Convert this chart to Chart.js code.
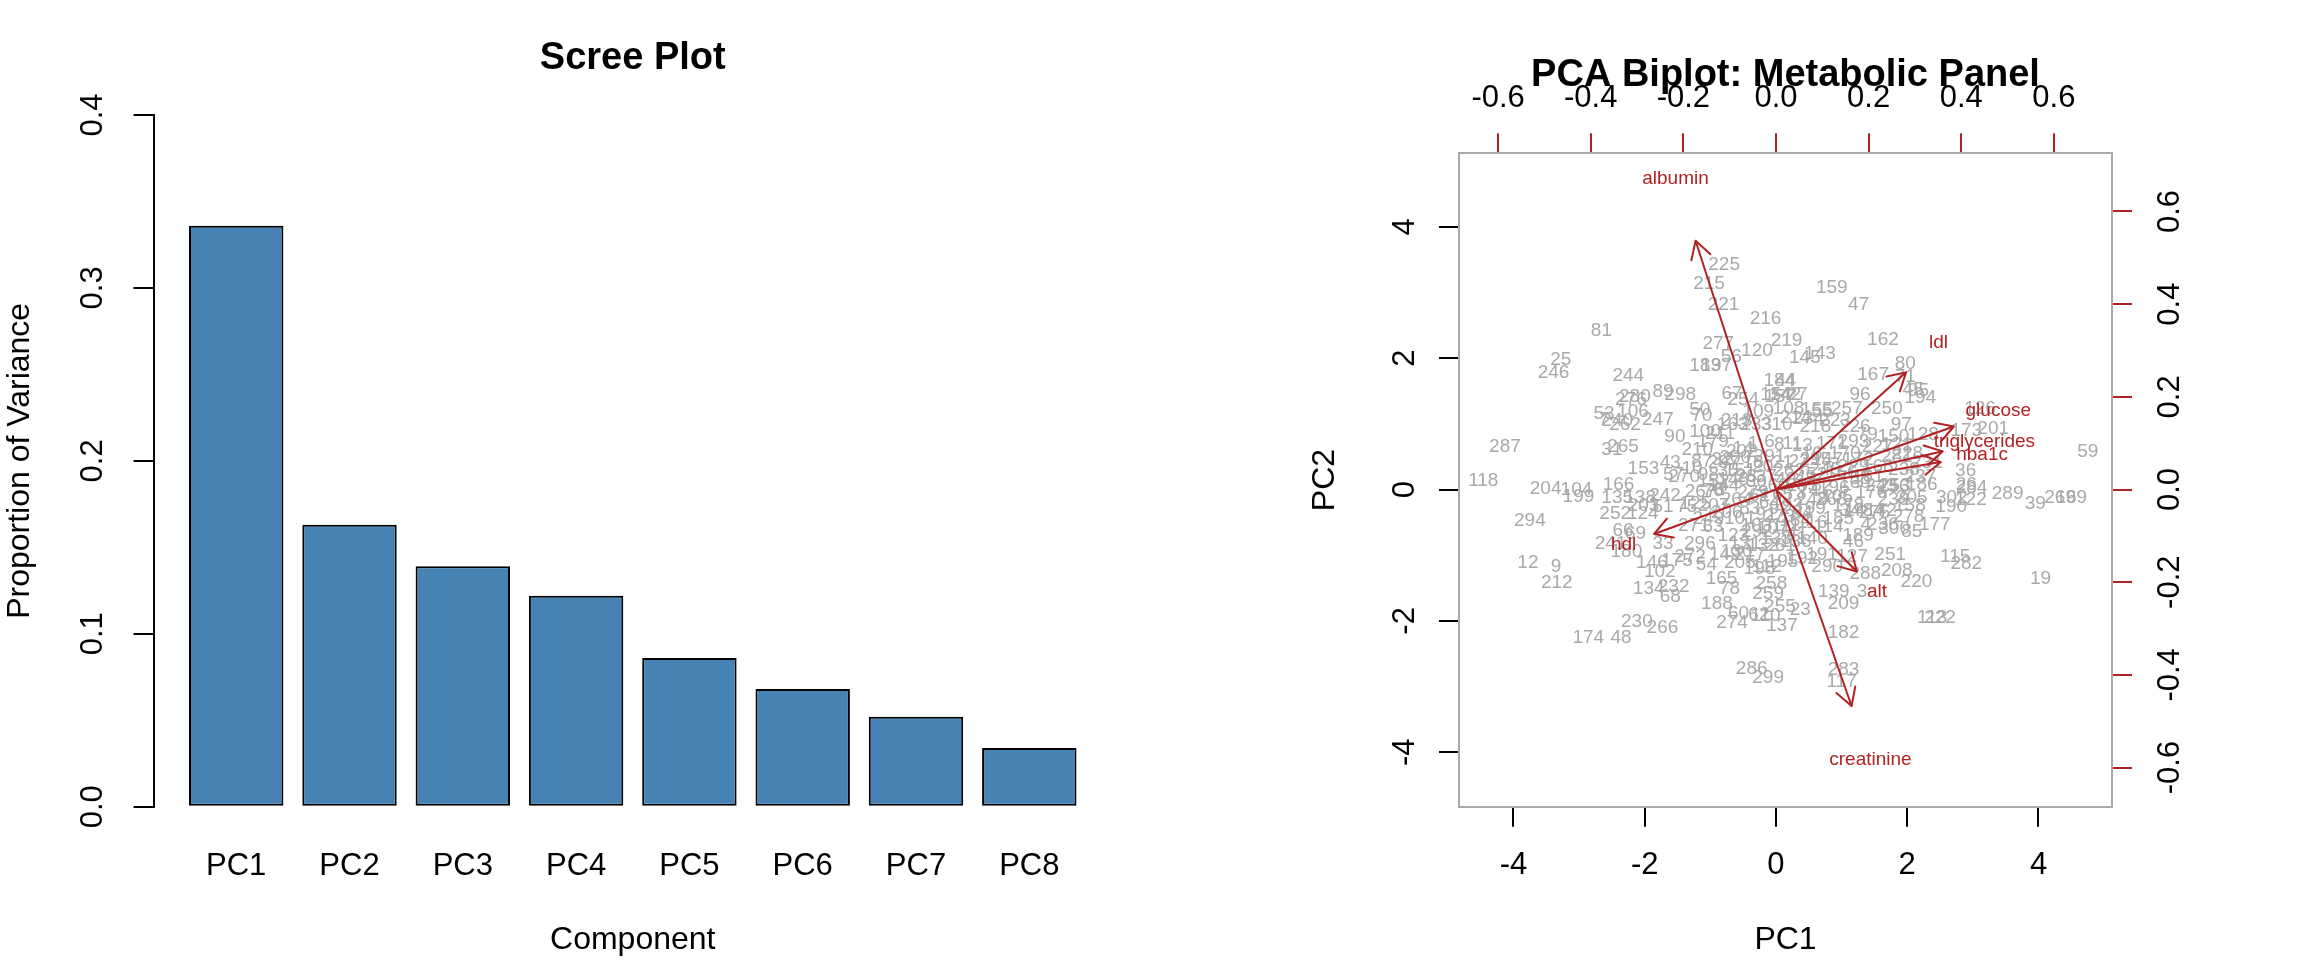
<!DOCTYPE html>
<html>
<head>
<meta charset="utf-8">
<script src="https://cdn.jsdelivr.net/npm/chart.js@4.4.1/dist/chart.umd.min.js"></script>
<style>
html, body { margin: 0; padding: 0; background: #ffffff; width: 2304px; height: 960px; overflow: hidden; }
canvas { position: absolute; top: 0; }
#scree { left: 0; }
#biplot { left: 1152px; }
</style>
</head>
<body>
<canvas id="scree" width="1152" height="960"></canvas>
<canvas id="biplot" width="1152" height="960"></canvas>
<script>
// ---------------- DATA ----------------
// Scree plot
const screeCategories = ['PC1', 'PC2', 'PC3', 'PC4', 'PC5', 'PC6', 'PC7', 'PC8'];
const screeValues = [0.336, 0.163, 0.139, 0.122, 0.086, 0.068, 0.052, 0.034];
const screeTicks = [0, 0.1, 0.2, 0.3, 0.4];

// Biplot: observation scores (label, PC1, PC2)
const obsIds = [
  81, 25, 246, 244, 89, 298, 276, 280, 53, 7,
  240, 106, 262, 247, 90, 265, 31, 287, 118, 153,
  204, 104, 199, 166, 135, 225, 215, 221, 216, 277,
  120, 56, 183, 197, 219, 184, 44, 143, 145, 159,
  47, 162, 167, 80, 96, 257, 250, 67, 254, 154,
  157, 142, 27, 108, 155, 55, 109, 50, 70, 234,
  71, 45, 95, 194, 126, 173, 201, 97, 128, 36,
  59, 186, 253, 284, 26, 289, 39, 269, 169, 302,
  122, 190, 305, 158, 278, 85, 177, 115, 282, 220,
  208, 251, 19, 113, 222, 188, 60, 62, 110, 255,
  23, 209, 274, 137, 182, 286, 299, 283, 117, 294,
  12, 9, 212, 174, 48, 230, 266, 134, 232, 68,
  146, 102, 33, 66, 69, 241, 180, 252, 124, 175,
  179, 100, 163, 233, 310, 202, 87, 32, 200, 98,
  151, 35, 5, 267, 76, 147, 229, 293, 79, 150,
  121, 281, 196, 58, 105, 256, 239, 34, 141, 84,
  42, 236, 4, 114, 248, 164, 41, 54, 165, 78,
  258, 259, 112, 272, 149, 217, 296, 131, 261, 290,
  127, 46, 139, 3, 288, 249, 63, 292, 43, 57,
  10, 138, 242, 125, 203, 51, 75,
  1, 6, 8, 11, 13, 14, 16, 18, 20, 21,
  22, 28, 30, 37, 40, 49, 52, 61, 64, 65,
  73, 74, 82, 83, 91, 92, 93, 94, 99, 101,
  103, 107, 111, 116, 123, 130, 132, 133, 136, 140,
  144, 148, 152, 156, 160, 161, 168, 170, 171, 172,
  176, 178, 185, 189, 191, 192, 195, 198, 205, 206,
  207, 210, 211, 213, 214, 218, 223, 226, 227, 228,
  231, 237, 238, 243, 245, 260, 263, 264, 268, 270,
  271, 273, 275, 279, 285, 291, 295, 297, 300
];
const obsPC1 = [
  -2.66, -3.28, -3.39, -2.25, -1.72, -1.46, -2.21, -2.15, -2.62, -2.62,
  -2.42, -2.18, -2.30, -1.80, -1.54, -2.33, -2.50, -4.13, -4.46, -2.02,
  -3.51, -3.04, -3.01, -2.40, -2.42, -0.79, -1.02, -0.80, -0.16, -0.88,
  -0.29, -0.68, -1.08, -0.91, 0.16, 0.05, 0.15, 0.67, 0.44, 0.85,
  1.26, 1.63, 1.48, 1.97, 1.28, 1.08, 1.69, -0.67, -0.50, 0.00,
  0.06, 0.14, 0.32, 0.19, 0.62, 0.70, -0.27, -1.16, -1.13, 0.49,
  1.97, 2.09, 2.17, 2.20, 3.11, 2.90, 3.31, 1.91, 2.24, 2.89,
  4.75, 2.22, 1.81, 2.98, 2.90, 3.53, 3.95, 4.33, 4.50, 2.68,
  2.97, 2.67, 2.07, 2.04, 2.02, 2.07, 2.42, 2.73, 2.90, 2.14,
  1.84, 1.74, 4.03, 2.38, 2.50, -0.90, -0.57, -0.26, -0.16, 0.06,
  0.37, 1.03, -0.67, 0.09, 1.03, -0.37, -0.12, 1.03, 1.00, -3.75,
  -3.78, -3.35, -3.34, -2.86, -2.36, -2.12, -1.73, -1.94, -1.56, -1.61,
  -1.89, -1.77, -1.72, -2.33, -2.14, -2.52, -2.28, -2.45, -2.03, -1.51,
  -0.96, -1.08, -0.66, -0.30, 0.01, -0.52, -1.13, -0.82, -0.62, -1.03,
  -0.55, -0.73, -0.86, -1.15, -0.96, 0.78, 1.18, 1.18, 1.39, 1.79,
  1.84, 1.84, 0.88, 1.28, 0.93, 1.79, 1.79, 1.13, 1.28, 1.48,
  1.68, 1.63, 1.37, 0.80, 0.55, 0.29, 0.32, -1.06, -0.83, -0.71,
  -0.07, -0.12, -0.14, -1.31, -0.78, -0.40, -1.16, -0.47, 0.06, 0.78,
  1.16, 1.18, 0.88, 1.31, 1.36, -1.03, -0.96, -0.29, -1.61, -1.56,
  -1.28, -2.07, -1.69, -1.23, -2.02, -1.72, -1.36,
  -0.35, -0.10, 0.05, 0.25, 0.40, -0.50, 0.55, -0.35, -0.20, 0.10,
  0.35, -0.45, -0.30, -0.15, 0.15, 0.45, 0.62, -0.25, -0.10, 0.10,
  0.30, 0.50, 0.70, -0.40, -0.15, 0.05, 0.25, 0.40, 0.60, -0.55,
  -0.30, -0.05, 0.15, 0.55, -0.65, -0.60, -0.20, 0.00, 0.30, 0.55,
  -0.80, -0.65, -0.95, 1.00, 1.20, 1.40, 1.55, 1.05, 0.85, 1.25,
  1.45, 1.10, 0.95, 1.25, 0.70, 0.40, 0.10, -0.25, -0.55, -0.75,
  -0.95, -1.20, -0.85, -0.60, 0.30, 0.60, 0.90, 1.20, 1.55, 2.00,
  2.30, 2.20, 1.95, 1.60, 0.75, -0.05, 0.20, -0.60, 0.85, -1.40,
  -1.25, 0.05, 1.50, -0.35, 0.40, -0.10, 0.60, -0.80, 1.80
];
const obsPC2 = [
  2.41, 1.98, 1.78, 1.73, 1.49, 1.45, 1.36, 1.41, 1.16, 1.06,
  1.04, 1.18, 0.98, 1.06, 0.80, 0.65, 0.60, 0.65, 0.13, 0.31,
  0.01, -0.01, -0.11, 0.07, -0.12, 3.43, 3.14, 2.82, 2.60, 2.22,
  2.12, 2.02, 1.88, 1.89, 2.27, 1.66, 1.65, 2.07, 2.00, 3.07,
  2.81, 2.28, 1.74, 1.91, 1.44, 1.23, 1.23, 1.46, 1.36, 1.44,
  1.41, 1.44, 1.44, 1.23, 1.21, 1.18, 1.18, 1.21, 1.12, 1.08,
  1.71, 1.52, 1.50, 1.40, 1.23, 0.89, 0.93, 0.98, 0.83, 0.28,
  0.57, 0.07, 0.05, 0.02, 0.08, -0.07, -0.21, -0.13, -0.13, -0.13,
  -0.15, -0.27, -0.13, -0.25, -0.41, -0.65, -0.54, -1.03, -1.13, -1.41,
  -1.23, -1.00, -1.36, -1.96, -1.96, -1.74, -1.89, -1.91, -1.92, -1.79,
  -1.83, -1.74, -2.03, -2.07, -2.18, -2.73, -2.86, -2.75, -2.92, -0.47,
  -1.12, -1.17, -1.42, -2.25, -2.25, -2.02, -2.11, -1.51, -1.48, -1.63,
  -1.12, -1.26, -0.82, -0.63, -0.67, -0.82, -0.95, -0.37, -0.37, -1.08,
  0.73, 0.88, 0.98, 0.98, 0.98, 0.57, 0.42, 0.45, 0.49, 0.22,
  0.29, 0.29, -0.01, -0.04, -0.02, 0.45, 0.34, 0.73, 0.83, 0.80,
  0.68, 0.50, 0.02, 0.17, -0.11, 0.04, -0.16, -0.32, -0.32, -0.32,
  -0.32, -0.54, -0.54, -0.57, -0.16, -0.47, -0.67, -1.15, -1.36, -1.51,
  -1.43, -1.58, -1.18, -1.02, -1.00, -1.00, -0.82, -0.82, -0.86, -1.18,
  -1.03, -0.80, -1.56, -1.56, -1.28, -0.44, -0.57, -0.65, 0.40, 0.22,
  0.32, -0.12, -0.09, -0.21, -0.24, -0.27, -0.26,
  0.70, 0.72, 0.68, 0.70, 0.66, 0.62, 0.55, 0.40, 0.35, 0.40,
  0.42, 0.20, 0.12, 0.20, 0.15, 0.18, 0.22, -0.10, -0.20, -0.08,
  -0.05, -0.02, 0.05, -0.30, -0.38, -0.30, -0.25, -0.35, -0.30, -0.45,
  -0.55, -0.60, -0.55, -0.50, -0.70, -0.95, -0.85, -0.75, -0.80, -0.75,
  0.05, 0.15, 0.12, 0.25, 0.10, 0.20, 0.35, 0.55, 0.70, 0.45,
  -0.05, -0.25, -0.45, -0.70, -1.00, -1.05, -1.10, -1.20, -1.12, -0.35,
  -0.25, 0.60, 0.85, 1.05, 1.10, 0.95, 1.05, 0.95, 0.65, 0.55,
  0.40, 0.20, 0.30, 0.05, 0.30, 0.05, 0.28, -0.15, -0.15, 0.20,
  -0.55, -0.42, -0.35, -0.05, 0.05, 0.50, 0.45, 0.40, -0.60
];

// Biplot: variable loadings (label positions; arrows are drawn at 0.8 of them)
const variables = ['glucose', 'hba1c', 'ldl', 'hdl', 'triglycerides', 'alt', 'creatinine', 'albumin'];
const loadPC1 = [0.480, 0.445, 0.351, -0.329, 0.450, 0.218, 0.204, -0.217];
const loadPC2 = [0.170, 0.074, 0.316, -0.120, 0.103, -0.221, -0.584, 0.671];

// Axis ticks
const pcTicks = [-4, -2, 0, 2, 4];
const loadingTicks = [-0.6, -0.4, -0.2, 0, 0.2, 0.4, 0.6];

// ---------------- STYLE / GEOMETRY ----------------
const FONT = '"Liberation Sans", Arial, Helvetica, sans-serif';
Chart.defaults.font.family = FONT;
Chart.defaults.color = '#000';

const BAR_COLOR = '#4682B4';
const POINT_COLOR = '#a9a9a9';
const ARROW_COLOR = '#B22222';
const BOX_COLOR = '#a9a9a9';

const SCORE_LIM = [-4.83, 5.12];
const LOAD_RATIO = 0.1417;
const ARROW_SHRINK = 0.8;
const ARROW_HEAD = 20;

// R barplot geometry: width 1, space 0.2, 4% axis expansion
const BAR_W = 1, BAR_SPACE = 0.2;
const barCenters = screeValues.map((_, i) => BAR_SPACE + BAR_W / 2 + i * (BAR_W + BAR_SPACE));
const barLo = BAR_SPACE;
const barHi = screeValues.length * (BAR_W + BAR_SPACE);
const barPad = 0.04 * (barHi - barLo);

function fixBox(size) {
  return (scale) => {
    if (scale.isHorizontal()) scale.height = size; else scale.width = size;
    scale.paddingLeft = 0; scale.paddingRight = 0; scale.paddingTop = 0; scale.paddingBottom = 0;
  };
}
function setTicks(values) {
  return (scale) => { scale.ticks = values.map(v => ({ value: v })); };
}
const tickFont = { size: 31, lineHeight: 1 };
const labFont = { size: 32, lineHeight: 1 };

// ---------------- SCREE PLOT ----------------
new Chart(document.getElementById('scree'), {
  type: 'bar',
  data: {
    datasets: [{
      data: screeValues.map((v, i) => ({ x: barCenters[i], y: v })),
      backgroundColor: BAR_COLOR,
      borderColor: '#000',
      borderWidth: 2,
      borderSkipped: false,
      barPercentage: BAR_W / (BAR_W + BAR_SPACE),
      categoryPercentage: 1
    }]
  },
  options: {
    responsive: false,
    devicePixelRatio: 1,
    animation: false,
    events: [],
    layout: { padding: { left: 0, right: 40, top: 0, bottom: 0 }, autoPadding: false },
    plugins: {
      legend: { display: false },
      tooltip: { enabled: false },
      title: {
        display: true, text: 'Scree Plot', fullSize: false, color: '#000',
        font: { size: 38, weight: 'bold', lineHeight: 1 },
        padding: { top: 40, bottom: 37 }
      }
    },
    scales: {
      x: {
        type: 'linear', offset: false,
        min: barLo - barPad, max: barHi + barPad,
        afterFit: fixBox(153.3),
        afterBuildTicks: setTicks(barCenters),
        grid: { display: false, drawTicks: false },
        border: { display: false },
        ticks: {
          font: tickFont, color: '#000', padding: 43.8, autoSkip: false,
          minRotation: 0, maxRotation: 0,
          callback: (v, i) => screeCategories[i]
        },
        title: { display: true, text: 'Component', font: labFont, color: '#000', padding: { top: 0, bottom: 4 } }
      },
      y: {
        min: 0, max: 0.4,
        afterFit: fixBox(153.5),
        afterBuildTicks: setTicks(screeTicks),
        grid: { drawOnChartArea: false, drawTicks: true, tickLength: 20, color: '#000', tickColor: '#000', lineWidth: 2 },
        border: { display: true, color: '#000', width: 2 },
        ticks: {
          font: tickFont, color: '#000', minRotation: 90, maxRotation: 90, crossAlign: 'center', padding: 18,
          callback: v => Number(v).toFixed(1)
        },
        title: { display: true, text: 'Proportion of Variance', font: labFont, color: '#000', padding: { top: 4, bottom: 0 } }
      }
    }
  }
});

// ---------------- BIPLOT ----------------
const biplotMarks = {
  id: 'biplotMarks',
  beforeDatasetsDraw(chart) {
    const meta = chart.getDatasetMeta(0);
    const ctx = chart.ctx;
    ctx.save();
    ctx.font = '19px ' + FONT;
    ctx.fillStyle = POINT_COLOR;
    ctx.textAlign = 'center';
    ctx.textBaseline = 'middle';
    meta.data.forEach((el, i) => { ctx.fillText(String(obsIds[i]), el.x, el.y); });
    ctx.restore();
  },
  afterDatasetsDraw(chart) {
    const xs = chart.scales.x2, ys = chart.scales.y2;
    const ctx = chart.ctx;
    ctx.save();
    ctx.strokeStyle = ARROW_COLOR;
    ctx.lineWidth = 2;
    ctx.lineCap = 'round';
    variables.forEach((name, i) => {
      const meta = chart.getDatasetMeta(i + 1);
      const p0 = meta.data[0], p1 = meta.data[1];
      const ang = Math.atan2(p1.y - p0.y, p1.x - p0.x);
      ctx.beginPath();
      [Math.PI / 6, -Math.PI / 6].forEach(d => {
        ctx.moveTo(p1.x, p1.y);
        ctx.lineTo(p1.x - ARROW_HEAD * Math.cos(ang + d), p1.y - ARROW_HEAD * Math.sin(ang + d));
      });
      ctx.stroke();
    });
    ctx.font = '19px ' + FONT;
    ctx.fillStyle = ARROW_COLOR;
    ctx.textAlign = 'center';
    ctx.textBaseline = 'middle';
    variables.forEach((name, i) => {
      ctx.fillText(name, xs.getPixelForValue(loadPC1[i]), ys.getPixelForValue(loadPC2[i]));
    });
    ctx.restore();
  }
};

const n = Math.min(obsIds.length, obsPC1.length, obsPC2.length);
const scoreData = [];
for (let i = 0; i < n; i++) scoreData.push({ x: obsPC1[i], y: obsPC2[i] });

const arrowSets = variables.map((name, i) => ({
  type: 'line',
  label: name,
  data: [{ x: 0, y: 0 }, { x: loadPC1[i] * ARROW_SHRINK, y: loadPC2[i] * ARROW_SHRINK }],
  xAxisID: 'x2', yAxisID: 'y2',
  borderColor: ARROW_COLOR, borderWidth: 2,
  pointRadius: 0, showLine: true, fill: false, tension: 0
}));

const loadLim = SCORE_LIM.map(v => v * LOAD_RATIO);

new Chart(document.getElementById('biplot'), {
  type: 'scatter',
  data: {
    datasets: [{
      label: 'scores', data: scoreData, xAxisID: 'x', yAxisID: 'y',
      pointRadius: 0, showLine: false
    }].concat(arrowSets)
  },
  plugins: [biplotMarks],
  options: {
    responsive: false,
    devicePixelRatio: 1,
    animation: false,
    events: [],
    layout: { padding: 0, autoPadding: false },
    plugins: {
      legend: { display: false },
      tooltip: { enabled: false },
      title: {
        display: true, text: 'PCA Biplot: Metabolic Panel', fullSize: false, color: '#000',
        font: { size: 38, weight: 'bold', lineHeight: 1 },
        padding: { top: 57, bottom: -40 }
      }
    },
    scales: {
      x: {
        type: 'linear', position: 'bottom', min: SCORE_LIM[0], max: SCORE_LIM[1],
        afterFit: fixBox(153.3), afterBuildTicks: setTicks(pcTicks),
        grid: { drawOnChartArea: false, drawTicks: true, tickLength: 20, color: '#000', tickColor: '#000', lineWidth: 2 },
        border: { display: true, color: BOX_COLOR, width: 2 },
        ticks: { font: tickFont, color: '#000', padding: 23.6, autoSkip: false, minRotation: 0, maxRotation: 0, callback: v => String(v) },
        title: { display: true, text: 'PC1', font: labFont, color: '#000', padding: { top: 0, bottom: 4 } }
      },
      y: {
        type: 'linear', position: 'left', min: SCORE_LIM[0], max: SCORE_LIM[1],
        afterFit: fixBox(307), afterBuildTicks: setTicks(pcTicks),
        grid: { drawOnChartArea: false, drawTicks: true, tickLength: 20, color: '#000', tickColor: '#000', lineWidth: 2 },
        border: { display: true, color: BOX_COLOR, width: 2 },
        ticks: { font: tickFont, color: '#000', minRotation: 90, maxRotation: 90, crossAlign: 'center', padding: 20.2, callback: v => String(v) },
        title: { display: true, text: 'PC2', font: labFont, color: '#000', padding: { top: 157, bottom: 0 } }
      },
      x2: {
        type: 'linear', axis: 'x', position: 'top', min: loadLim[0], max: loadLim[1],
        afterFit: fixBox(98.3), afterBuildTicks: setTicks(loadingTicks),
        grid: { drawOnChartArea: false, drawTicks: true, tickLength: 20, color: ARROW_COLOR, tickColor: ARROW_COLOR, lineWidth: 2 },
        border: { display: true, color: BOX_COLOR, width: 2 },
        ticks: { font: tickFont, color: '#000', padding: 19.8, autoSkip: false, minRotation: 0, maxRotation: 0, callback: v => Number(v).toFixed(1) }
      },
      y2: {
        type: 'linear', axis: 'y', position: 'right', min: loadLim[0], max: loadLim[1],
        afterFit: fixBox(192), afterBuildTicks: setTicks(loadingTicks),
        grid: { drawOnChartArea: false, drawTicks: true, tickLength: 20, color: ARROW_COLOR, tickColor: ARROW_COLOR, lineWidth: 2 },
        border: { display: true, color: BOX_COLOR, width: 2 },
        ticks: { font: tickFont, color: '#000', minRotation: 90, maxRotation: 90, crossAlign: 'center', padding: 11.3, autoSkip: false, callback: v => Number(v).toFixed(1) }
      }
    }
  }
});
</script>
</body>
</html>
